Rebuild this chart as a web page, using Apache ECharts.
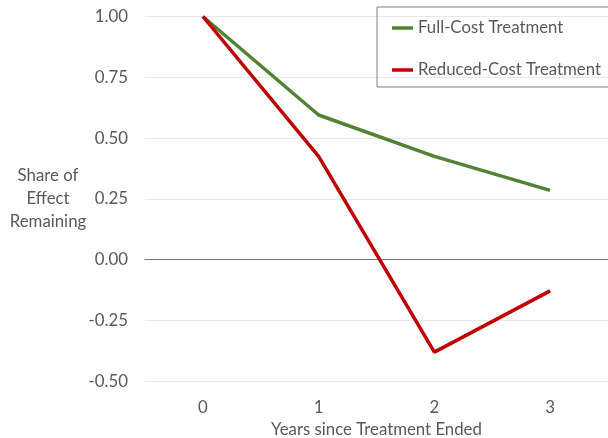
<!DOCTYPE html>
<html><head><meta charset="utf-8">
<script src="https://cdn.jsdelivr.net/npm/echarts@6/dist/echarts.min.js"></script>
<style>html,body{margin:0;padding:0;background:#fff}#c{width:608px;height:438px}</style>
</head><body><div id="c"></div>
<script>
var categories = ['0', '1', '2', '3'];
var fullCost = [1.00, 0.595, 0.425, 0.285];
var reducedCost = [1.00, 0.425, -0.38, -0.128];
var seriesNames = ['Full-Cost Treatment', 'Reduced-Cost Treatment'];
var yTicks = { min: -0.5, max: 1, interval: 0.25 };

var font = 'Lato, "Open Sans", sans-serif';
var fs = 16.8;
var chart = echarts.init(document.getElementById('c'));
chart.setOption({
  animation: false,
  grid: { left: 145, right: 0, top: 16.5, bottom: 56.7, containLabel: false, outerBoundsMode: 'none' },
  legend: {
    orient: 'vertical', left: 377, top: 7,
    padding: [11, 30, 7, 15],
    borderColor: '#7f7f7f', borderWidth: 1,
    icon: 'rect',
    itemWidth: 21, itemHeight: 3.5, itemGap: 22,
    textStyle: { fontFamily: font, fontSize: fs, color: '#595959', height: 20, lineHeight: 20 },
    data: seriesNames
  },
  graphic: [{
    type: 'text',
    style: { text: 'Share of\nEffect\nRemaining', x: 48, y: 164, textAlign: 'center',
      fill: '#595959', font: fs + 'px ' + font, lineHeight: 23 }
  }],
  xAxis: {
    type: 'category', data: categories, boundaryGap: true,
    name: 'Years since Treatment Ended', nameLocation: 'middle', nameGap: 33,
    nameTextStyle: { fontFamily: font, fontSize: fs, color: '#595959' },
    axisLine: { onZero: true, lineStyle: { color: '#767676', width: 1 } },
    axisTick: { show: false },
    axisLabel: { fontFamily: font, fontSize: fs, color: '#595959', margin: 18 }
  },
  yAxis: {
    type: 'value', min: yTicks.min, max: yTicks.max, interval: yTicks.interval,
    axisLine: { show: false }, axisTick: { show: false },
    splitLine: { lineStyle: { color: '#e8e8e8', width: 1 } },
    axisLabel: { fontFamily: font, fontSize: fs, color: '#595959', margin: 17,
      formatter: function (v) { return v.toFixed(2); } }
  },
  series: [
    { name: seriesNames[0], type: 'line', data: fullCost, symbol: 'none',
      lineStyle: { color: '#548235', width: 3.5 }, itemStyle: { color: '#548235' } },
    { name: seriesNames[1], type: 'line', data: reducedCost, symbol: 'none',
      lineStyle: { color: '#C00000', width: 3.5 }, itemStyle: { color: '#C00000' } }
  ]
});
</script></body></html>
